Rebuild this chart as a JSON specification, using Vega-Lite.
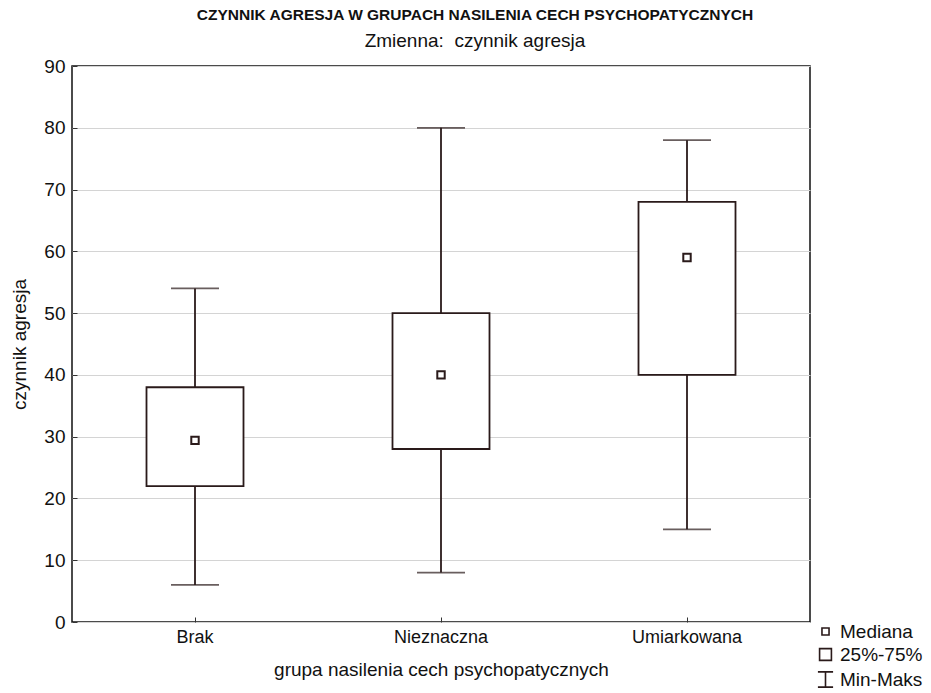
{
  "$schema": "https://vega.github.io/schema/vega-lite/v6.json",
  "autosize": {"type": "none"},
  "width": 738,
  "height": 556,
  "padding": {"left": 72, "top": 66, "right": 121, "bottom": 71},
  "background": "white",
  "title": {
    "text": "CZYNNIK AGRESJA W GRUPACH NASILENIA CECH PSYCHOPATYCZNYCH",
    "subtitle": "Zmienna:\u00a0 czynnik agresja",
    "anchor": "middle",
    "dx": 34,
    "offset": 6,
    "font": "Liberation Sans",
    "fontSize": 15.5,
    "fontWeight": "bold",
    "color": "#111",
    "subtitleFont": "Liberation Sans",
    "subtitleFontSize": 19,
    "subtitleColor": "#111",
    "subtitlePadding": 9
  },
  "config": {
    "view": {"stroke": "#111", "strokeWidth": 1.5},
    "font": "Liberation Sans",
    "axisX": {
      "titleFont": "Liberation Sans",
      "titleFontSize": 19,
      "titleFontWeight": "normal",
      "titleColor": "#111",
      "titlePadding": 14,
      "labelAngle": 0,
      "labelFont": "Liberation Sans",
      "labelFontSize": 18,
      "labelColor": "#111",
      "labelPadding": 11,
      "domain": false,
      "tickSize": -5,
      "tickColor": "#333",
      "grid": false,
      "zindex": 1
    },
    "axisY": {
      "titleFont": "Liberation Sans",
      "titleFontSize": 19,
      "titleFontWeight": "normal",
      "titleColor": "#111",
      "titlePadding": 14,
      "labelFont": "Liberation Sans",
      "labelFontSize": 19,
      "labelColor": "#111",
      "labelPadding": 12,
      "domain": false,
      "tickSize": -5,
      "tickColor": "#333",
      "gridColor": "#d4d4d4",
      "gridWidth": 1.2
    }
  },
  "datasets": {
    "stats": [
      {"grupa": "Brak", "min": 6, "q1": 22, "median": 29.4, "q3": 38, "max": 54},
      {"grupa": "Nieznaczna", "min": 8, "q1": 28, "median": 40, "q3": 50, "max": 80},
      {"grupa": "Umiarkowana", "min": 15, "q1": 40, "median": 59, "q3": 68, "max": 78}
    ],
    "leg": [
      {"item": "Mediana"},
      {"item": "25%-75%"},
      {"item": "Min-Maks"}
    ]
  },
  "encoding": {
    "x": {
      "field": "grupa",
      "type": "nominal",
      "sort": ["Brak", "Nieznaczna", "Umiarkowana"],
      "scale": {"paddingInner": 0, "paddingOuter": 0},
      "axis": {"title": "grupa nasilenia cech psychopatycznych"}
    }
  },
  "layer": [
    {
      "data": {"name": "stats"},
      "mark": {"type": "rule", "color": "#2a1a1a", "strokeWidth": 1.8},
      "encoding": {
        "y": {
          "field": "min",
          "type": "quantitative",
          "scale": {"domain": [0, 90], "nice": false},
          "axis": {
            "title": "czynnik agresja",
            "values": [0, 10, 20, 30, 40, 50, 60, 70, 80, 90]
          }
        },
        "y2": {"field": "max"}
      }
    },
    {
      "data": {"name": "stats"},
      "mark": {"type": "tick", "color": "#2a1a1a", "size": 48, "thickness": 1.8},
      "encoding": {"y": {"field": "min", "type": "quantitative"}}
    },
    {
      "data": {"name": "stats"},
      "mark": {"type": "tick", "color": "#2a1a1a", "size": 48, "thickness": 1.8},
      "encoding": {"y": {"field": "max", "type": "quantitative"}}
    },
    {
      "data": {"name": "stats"},
      "mark": {"type": "bar", "size": 97, "fill": "white", "stroke": "#2a1a1a", "strokeWidth": 1.8},
      "encoding": {
        "y": {"field": "q1", "type": "quantitative"},
        "y2": {"field": "q3"}
      }
    },
    {
      "data": {"name": "stats"},
      "mark": {"type": "point", "shape": "square", "size": 55, "filled": false, "stroke": "#2a1a1a", "strokeWidth": 2, "fill": "white", "fillOpacity": 1, "opacity": 1},
      "encoding": {"y": {"field": "median", "type": "quantitative"}}
    },
    {
      "data": {"name": "leg"},
      "mark": {"type": "point", "opacity": 0, "filled": false},
      "encoding": {
        "x": {"value": 0},
        "y": {"value": 0},
        "shape": {
          "field": "item",
          "type": "nominal",
          "scale": {
            "domain": ["Mediana", "25%-75%", "Min-Maks"],
            "range": ["square", "square", "M-1,-1H1M0,-1V1M-1,1H1"]
          },
          "legend": {
            "title": null,
            "orient": "none",
            "legendX": 744,
            "legendY": 556,
            "labelFont": "Liberation Sans",
            "labelFontSize": 19,
            "labelColor": "#111",
            "labelOffset": 5,
            "rowPadding": 3,
            "symbolOpacity": 1,
            "symbolStrokeColor": "#2a1a1a",
            "symbolFillColor": "white",
            "symbolStrokeWidth": 1.6
          }
        },
        "size": {
          "field": "item",
          "type": "nominal",
          "scale": {
            "domain": ["Mediana", "25%-75%", "Min-Maks"],
            "range": [50, 230, 200]
          },
          "legend": {
            "title": null,
            "orient": "none",
            "legendX": 744,
            "legendY": 556,
            "labelFont": "Liberation Sans",
            "labelFontSize": 19,
            "labelColor": "#111",
            "labelOffset": 5,
            "rowPadding": 3,
            "symbolOpacity": 1,
            "symbolStrokeColor": "#2a1a1a",
            "symbolFillColor": "white",
            "symbolStrokeWidth": 1.6
          }
        }
      }
    }
  ]
}
